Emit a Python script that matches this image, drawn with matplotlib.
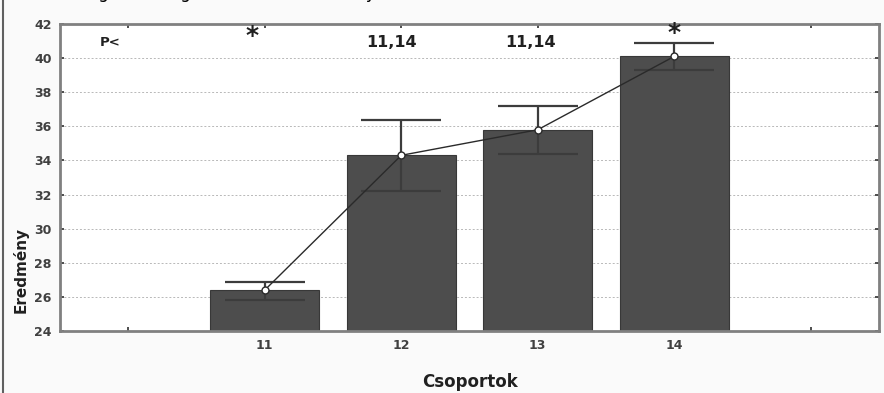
import matplotlib
matplotlib.use('Agg')
import matplotlib.pyplot as plt
from matplotlib.lines import Line2D

# adatok
csoportok = ['11', '12', '13', '14']
atlagok = [26.4, 34.3, 35.8, 40.1]
felso = [26.9, 36.4, 37.2, 40.9]
also = [25.8, 32.2, 34.4, 39.3]
jelolesek = ['*', '11,14', '11,14', '*']
yticks = [24, 26, 28, 30, 32, 34, 36, 38, 40, 42]

fig = plt.figure(figsize=(8.84, 3.93), dpi=100, facecolor='#fafafa')
ax = fig.add_axes([60/884, 1 - 331/393, (879 - 60)/884, (331 - 24)/393])
ax.set_facecolor('white')

x = list(range(len(csoportok)))
ax.bar(x, atlagok, width=0.8, color='#4d4d4d', edgecolor='#383838', linewidth=0.8, zorder=2)

hib_le = [m - a for m, a in zip(atlagok, also)]
hib_fel = [f - m for m, f in zip(atlagok, felso)]
ax.errorbar(x, atlagok, yerr=[hib_le, hib_fel], fmt='none', ecolor='#3c3c3c',
            elinewidth=1.6, capsize=29, capthick=1.6, zorder=3)
ax.plot(x, atlagok, color='#2a2a2a', lw=1.0, marker='o', ms=5,
        mfc='white', mec='#2a2a2a', mew=1.0, zorder=4)

ax.set_xlim(-1.5, 4.5)
ax.set_ylim(24, 42)
ax.set_xticks([-1, 0, 1, 2, 3, 4])
ax.set_xticklabels([''] + csoportok + [''])
ax.set_yticks(yticks)
ax.set_yticklabels([str(v) for v in yticks])
ax.tick_params(direction='in', length=3, width=1.2, color='#303030',
               top=True, right=True, labelsize=9, labelcolor='#404040', pad=6)
for lab in ax.get_xticklabels() + ax.get_yticklabels():
    lab.set_fontweight('bold')
ax.yaxis.grid(True, linestyle=(0, (2, 2)), color='#b8b8b8', lw=0.7, zorder=0)
for s in ax.spines.values():
    s.set_color('#808080')
    s.set_linewidth(2)

# szignifikancia jelölések
ax.text(-1.13, 40.9, 'P<', fontsize=9.5, fontweight='bold', ha='center', va='center', color='#202020')
ax.text(-0.09, 41.3, jelolesek[0], fontsize=18, fontweight='bold', ha='center', va='center', color='#202020')
ax.text(0.93, 40.9, jelolesek[1], fontsize=11.5, fontweight='bold', ha='center', va='center', color='#202020')
ax.text(1.95, 40.9, jelolesek[2], fontsize=11.5, fontweight='bold', ha='center', va='center', color='#202020')
ax.text(3.0, 41.45, jelolesek[3], fontsize=18, fontweight='bold', ha='center', va='center', color='#202020')

fig.text(21/884, 1 - 270/393, 'Eredmény', rotation=90, fontsize=11, fontweight='bold',
         ha='center', va='center', color='#202020')
fig.text(470/884, 1 - 382/393, 'Csoportok', fontsize=12, fontweight='bold',
         ha='center', va='center', color='#202020')

# levágott cím a kép tetején (a mintán is csak az alja látszik)
fig.text(66/884, 1 + 2/393, 'Átlagok és szignifikanciák: eredmény (n=120)',
         fontsize=12, ha='left', va='baseline', color='black')

# bal oldali keret
fig.add_artist(Line2D([2.5/884, 2.5/884], [0, 1], transform=fig.transFigure,
                      color='#606060', lw=1.5))

fig.savefig('out.png', dpi=100, facecolor=fig.get_facecolor())
